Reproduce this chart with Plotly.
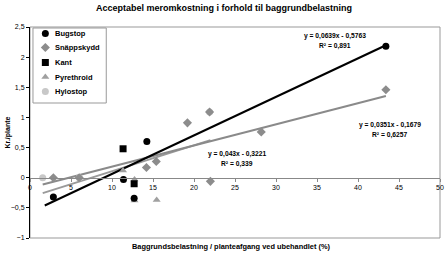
import plotly.graph_objects as go

title = "Acceptabel meromkostning i forhold til baggrundbelastning"
x_title = "Baggrundsbelastning / planteafgang ved ubehandlet (%)"
y_title = "Kr./plante"

bug_x = [2.85, 11.4, 12.7, 14.25, 43.4]
bug_y = [-0.32, -0.03, -0.34, 0.60, 2.18]

snap_x = [2.85, 6.0, 14.2, 15.4, 19.2, 21.9, 22.0, 28.2, 43.4]
snap_y = [0.0, 0.0, 0.17, 0.27, 0.91, 1.09, -0.06, 0.76, 1.46]

kant_x = [11.35, 12.7]
kant_y = [0.48, -0.10]

pyr_x = [11.35, 12.75, 12.75, 15.45]
pyr_y = [0.12, -0.03, -0.38, -0.37]

hylo_x = [1.55, 6.0, 21.9]
hylo_y = [0.0, 0.0, 1.09]

trend_bug = (0.0639, -0.5763, 1.8, 43.4)
trend_snap = (0.0351, -0.1679, 1.55, 43.4)
trend_other = (0.043, -0.3221, 1.55, 22.0)

eq_bug = ["y = 0,0639x - 0,5763", "R² = 0,891"]
eq_snap = ["y = 0,0351x - 0,1679", "R² = 0,6257"]
eq_other = ["y = 0,043x - 0,3221", "R² = 0,339"]

series_names = ["Bugstop", "Snäppskydd", "Kant", "Pyrethroid", "Hylostop"]
series_symbols = ["circle", "diamond", "square", "triangle-up", "circle"]
series_colors = ["#000000", "#8c8c8c", "#000000", "#a0a0a0", "#c8c8c8"]

FONT = "Liberation Sans"

fig = go.Figure()

def tline(t, color, width):
    a, b, x0, x1 = t
    fig.add_trace(go.Scatter(x=[x0, x1], y=[a * x0 + b, a * x1 + b], mode="lines",
                             line=dict(color=color, width=width), showlegend=False,
                             hoverinfo="skip"))

tline(trend_other, "#9a9a9a", 2)
tline(trend_snap, "#8a8a8a", 2)
tline(trend_bug, "#000000", 2)

def pts(xs, ys, i):
    fig.add_trace(go.Scatter(x=xs, y=ys, mode="markers", name=series_names[i], showlegend=False,
                             marker=dict(symbol=series_symbols[i], size=7, color=series_colors[i])))

pts(hylo_x, hylo_y, 4)
pts(snap_x, snap_y, 1)
pts(pyr_x, pyr_y, 3)
pts(kant_x, kant_y, 2)
pts(bug_x, bug_y, 0)

leg_y = [6.5, 20.5, 35.5, 50, 64.5]
fig.add_trace(go.Scatter(x=[15.5] * 5, y=leg_y, xaxis="x2", yaxis="y2", mode="markers",
                         showlegend=False, hoverinfo="skip",
                         marker=dict(symbol=series_symbols, size=7, color=series_colors)))

ann = []
for n, yy in zip(series_names, leg_y):
    ann.append(dict(x=23, y=yy, xref="x2", yref="y2", xanchor="left", yanchor="middle",
                    text="<b>%s</b>" % n, showarrow=False,
                    font=dict(family=FONT, size=7.5, color="#000")))

def eq(lines, x, y):
    for i, t in enumerate(lines):
        ann.append(dict(x=x, y=y, xref="x", yref="y", xanchor="center", yanchor="middle",
                        text="<b>%s</b>" % t, showarrow=False,
                        yshift=-10 * i, font=dict(family=FONT, size=6.7, color="#000")))

eq(eq_bug, 37.2, 2.35)
eq(eq_snap, 43.9, 0.87)
eq(eq_other, 25.2, 0.40)

ann.append(dict(x=0, y=0.5, xref="paper", yref="paper", xshift=-23, text="<b>%s</b>" % y_title,
                textangle=-90, showarrow=False, xanchor="center", yanchor="middle",
                font=dict(family=FONT, size=7, color="#000")))
ann.append(dict(x=0.49, y=0, xref="paper", yref="paper", yshift=-8, text="<b>%s</b>" % x_title,
                showarrow=False, xanchor="center", yanchor="middle",
                font=dict(family=FONT, size=7.4, color="#000")))

fig.update_layout(
    width=448, height=255,
    margin=dict(l=30, r=4, t=27, b=17),
    paper_bgcolor="white", plot_bgcolor="white",
    separators=",.",
    showlegend=False,
    title=dict(text="<b>%s</b>" % title, x=0.5, xanchor="center", y=1 - 8 / 255, yanchor="middle",
               yref="container", font=dict(family=FONT, size=9, color="#000")),
    font=dict(family=FONT, size=7, color="#000"),
    xaxis=dict(range=[0, 50], dtick=5, tick0=0, showgrid=False, zeroline=False,
               anchor="free", position=1 / 3.5, showline=True, linecolor="#888", linewidth=1,
               ticks="outside", ticklen=3, tickcolor="#888",
               tickfont=dict(family=FONT, size=7, color="#000")),
    yaxis=dict(range=[-1, 2.5], dtick=0.5, showgrid=False, zeroline=False, showline=True,
               linecolor="#000", linewidth=1, ticks="outside", ticklen=3, tickcolor="#000",
               tickformat=".1~f", tickfont=dict(family=FONT, size=7, color="#000")),
    xaxis2=dict(range=[0, 414], overlaying="x", visible=False, anchor="y2"),
    yaxis2=dict(range=[211, 0], overlaying="y", visible=False, anchor="x2"),
    annotations=ann,
    shapes=[dict(type="rect", xref="paper", yref="paper", x0=0, y0=0, x1=1, y1=1,
                 line=dict(color="#999", width=1), layer="below"),
            dict(type="rect", xref="paper", yref="paper", x0=3 / 414, x1=77 / 414,
                 y0=1 - 76 / 211, y1=1 - 1 / 211, fillcolor="white",
                 line=dict(color="#999", width=1), layer="below")],
)

fig.write_html("out.html")
